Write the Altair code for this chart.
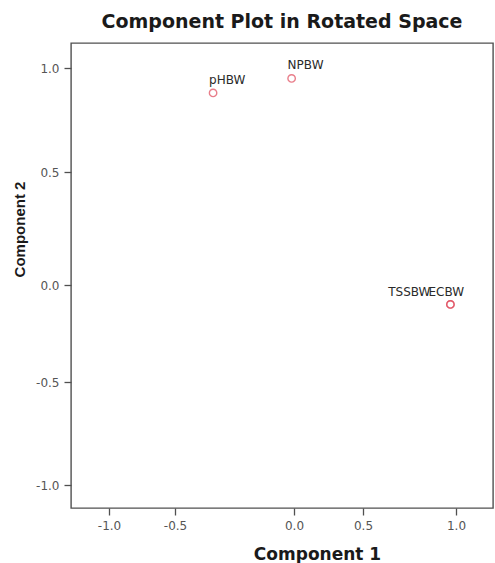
import altair as alt
import pandas as pd

# Variables (component loadings)
names = ["pHBW", "NPBW", "TSSBW", "ECBW"]
comp1 = [-0.34, -0.01, 0.97, 0.97]
comp2 = [0.88, 0.95, -0.10, -0.10]

tick_values = [-1.0, -0.5, 0.0, 0.5, 1.0]

# The reference axes are unevenly spaced; piecewise-linear scales mimic that
x_domain = [-1.29, -1.0, -0.5, 0.0, 0.5, 1.0, 1.2]
x_range = [0, 38, 104, 223, 292, 385, 422]
y_domain = [-1.11, -1.0, -0.5, 0.0, 0.5, 1.0, 1.12]
y_range = [465, 442, 339, 242, 129, 25, 0]

df = pd.DataFrame({"name": names, "c1": comp1, "c2": comp2})

label_expr = "datum.value < 0 ? '-' + format(-datum.value, '.1f') : format(datum.value, '.1f')"

x_enc = alt.X(
    "c1:Q",
    scale=alt.Scale(domain=x_domain, range=x_range, zero=False, nice=False),
    axis=alt.Axis(
        values=tick_values, labelExpr=label_expr, title="Component 1",
        titleX=246, titleY=51, titleBaseline="alphabetic", titleAlign="center",
        titleFont="DejaVu Sans", titleFontSize=17,
    ),
)
y_enc = alt.Y(
    "c2:Q",
    scale=alt.Scale(domain=y_domain, range=y_range, zero=False, nice=False),
    axis=alt.Axis(
        values=tick_values, labelExpr=label_expr, title="Component 2",
        titleX=-47, titleY=186, titleAngle=270, titleBaseline="alphabetic",
        titleAlign="center", titleFont="Liberation Sans", titleFontSize=15,
    ),
)

base = alt.Chart(df)

points = base.mark_point(
    shape="circle", filled=False, size=55, color="#e0485a", strokeWidth=1.4
).encode(x=x_enc, y=y_enc)

text_style = dict(font="DejaVu Sans", fontSize=12, color="#2a2a2a", baseline="alphabetic")

labels_main = base.transform_filter(
    "datum.name != 'TSSBW' && datum.name != 'ECBW'"
).mark_text(align="left", dx=-4, dy=-9, **text_style).encode(x=x_enc, y=y_enc, text="name:N")

label_tss = base.transform_filter("datum.name == 'TSSBW'").mark_text(
    align="right", dx=-20, dy=-8, **text_style
).encode(x=x_enc, y=y_enc, text="name:N")

label_ec = base.transform_filter("datum.name == 'ECBW'").mark_text(
    align="left", dx=-22, dy=-8, **text_style
).encode(x=x_enc, y=y_enc, text="name:N")

chart = (
    alt.layer(points, labels_main, label_tss, label_ec)
    .properties(
        width=422,
        height=465,
        autosize=alt.AutoSizeParams(type="none"),
        padding={"left": 71, "top": 43, "right": 2, "bottom": 55},
        title=alt.TitleParams(
            "Component Plot in Rotated Space",
            anchor="middle", font="DejaVu Sans", fontSize=19, fontWeight="bold",
            color="#1a1a1a", baseline="alphabetic", offset=15, dy=19,
        ),
    )
    .configure_view(stroke="#505050", strokeWidth=1.4, fill="white")
    .configure_axis(
        domain=False, grid=False, ticks=True, tickColor="#505050", tickSize=7,
        tickWidth=1.3, labelFont="DejaVu Sans", labelFontSize=12, labelColor="#555555",
        labelPadding=5, titleFontWeight="bold", titleColor="#1a1a1a",
    )
)

chart.save("out.html", embed_options={"renderer": "svg", "actions": False})
